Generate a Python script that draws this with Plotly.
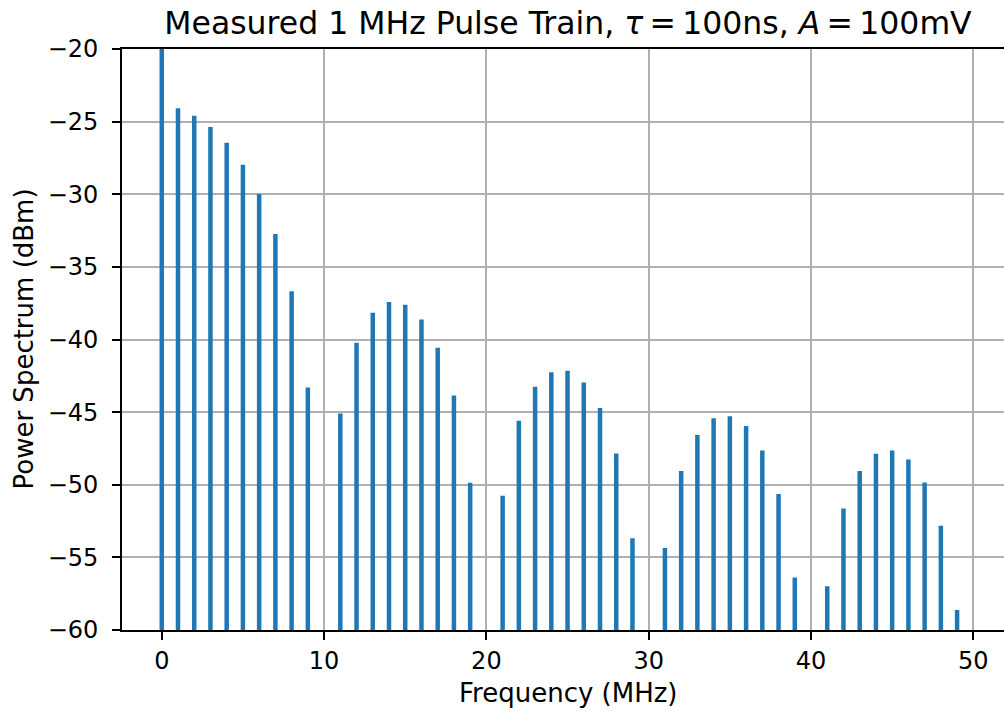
import plotly.graph_objects as go

# Harmonic frequencies (MHz) and measured power (dBm); None = below display floor
freqs_mhz = list(range(0, 50))
power_dbm = [
    -12.0, -24.08, -24.59, -25.37, -26.45, -27.97, -29.99, -32.74, -36.67, -43.30,
    None, -45.09, -40.23, -38.16, -37.42, -37.61, -38.62, -40.57, -43.85, -49.87,
    None, -50.76, -45.60, -43.26, -42.25, -42.16, -42.96, -44.71, -47.85, -53.68,
    None, -54.35, -49.06, -46.58, -45.43, -45.28, -45.96, -47.64, -50.63, -56.39,
    None, -56.98, -51.63, -49.06, -47.87, -47.64, -48.26, -49.84, -52.83, -58.62,
]
x_ticks = [0, 10, 20, 30, 40, 50]
y_ticks = [-60, -55, -50, -45, -40, -35, -30, -25, -20]
y_ticklabels = ["\u2212" + str(abs(v)) for v in y_ticks]
floor_dbm = -70

xs, ys = [], []
for f, p in zip(freqs_mhz, power_dbm):
    if p is None:
        continue
    xs += [f, f, None]
    ys += [floor_dbm, p, None]

FONT = "DejaVu Sans"

fig = go.Figure()
fig.add_trace(go.Scatter(
    x=xs, y=ys, mode="lines",
    line=dict(color="#1f77b4", width=4.5),
    hoverinfo="skip", showlegend=False,
))

fig.update_layout(
    width=1004, height=711,
    margin=dict(l=122, r=0, t=49, b=81),
    paper_bgcolor="white", plot_bgcolor="white",
    font=dict(family=FONT, color="black", size=24),
    title=dict(
        text="Measured 1 MHz Pulse Train, <i>\u03c4</i>\u2009=\u2009100ns, <i>A</i>\u2009=\u2009100mV",
        x=568 / 1004, xref="container", xanchor="center",
        y=1 - 23 / 711, yref="container", yanchor="middle",
        font=dict(family=FONT, size=31.5, color="black"),
    ),
    xaxis=dict(
        range=[-2.45, 51.89],
        tickvals=x_ticks,
        ticks="outside", ticklen=8, tickwidth=1.6, tickcolor="black",
        showline=True, linecolor="black", linewidth=1.6, mirror=True,
        showgrid=True, gridcolor="#b0b0b0", gridwidth=1.6,
        zeroline=False,
        tickfont=dict(family=FONT, size=24, color="black"),
    ),
    yaxis=dict(
        range=[-60, -20],
        tickvals=y_ticks, ticktext=y_ticklabels,
        ticks="outside", ticklen=8, tickwidth=1.6, tickcolor="black",
        ticklabelstandoff=9,
        showline=True, linecolor="black", linewidth=1.6,
        showgrid=True, gridcolor="#b0b0b0", gridwidth=1.6,
        zeroline=False,
        tickfont=dict(family=FONT, size=24, color="black"),
    ),
    annotations=[
        dict(text="Frequency (MHz)", xref="paper", yref="paper",
             x=(568 - 122) / 882, y=(630 - 693) / 581,
             xanchor="center", yanchor="middle", showarrow=False,
             font=dict(family=FONT, size=26, color="black")),
        dict(text="Power Spectrum (dBm)", xref="paper", yref="paper",
             x=(23 - 122) / 882, y=0.5, textangle=-90,
             xanchor="center", yanchor="middle", showarrow=False,
             font=dict(family=FONT, size=26, color="black")),
    ],
)

fig.write_html("out.html")
